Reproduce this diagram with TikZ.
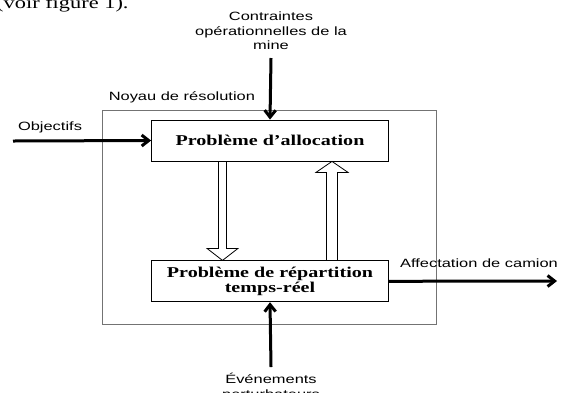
\documentclass[tikz,border=0pt]{standalone}
\usepackage{fontspec}
\setmainfont{Liberation Serif}
\newfontfamily\labelfont{Liberation Sans}[FakeStretch=1.37]
\newfontfamily\boxfont{Liberation Serif}[FakeStretch=1.34]
\usetikzlibrary{arrows.meta, positioning, calc}
\tikzset{
  noyaubox/.style={
    rectangle, draw=black!55, line width=0.9pt,
    minimum width=334pt, minimum height=214pt
  },
  probbox/.style={
    rectangle, draw=black, line width=0.8pt,
    minimum width=237pt, minimum height=41pt,
    align=center, inner sep=0pt,
    font=\boxfont\bfseries\fontsize{15}{14.5}\selectfont
  },
  lbl/.style={
    inner sep=0pt, align=center,
    font=\labelfont\fontsize{12}{14.5}\selectfont
  },
  flow/.style={line width=3pt, -{Straight Barb[length=7pt,width=11pt]}},
  hollow/.style={line width=0.8pt, line join=miter},
}
\begin{document}
\begin{tikzpicture}[x=1pt, y=1pt]
  \useasboundingbox (0,0) rectangle (564,-392);
  \clip (0,0) rectangle (564,-392);
  \node (voir)    [inner sep=0pt, anchor=base west, font=\boxfont\fontsize{16.7}{18}\selectfont] at (-4,-8) {(voir figure 1).};
  \node (noyau)   [noyaubox] at (269,-217) {};
  \node (alloc)   [probbox] at (270,-140.5) {Problème d’allocation};
  \node (repart)  [probbox, below=99pt of alloc] {Problème de répartition\\temps-réel};
  \node (ntitle)  [lbl, anchor=base west] at ([shift={(7,9)}]noyau.north west) {Noyau de résolution};
  \node (contr)   [lbl, anchor=south] at (271,-50) {Contraintes\\opérationnelles de la\\mine};
  \node (obj)     [lbl, anchor=base] at (50,-130) {Objectifs};
  \coordinate (objin) at (13,-141);
  \node (evt)     [lbl, anchor=north] at (271,-373) {Événements\\perturbateurs};
  \node (affect)  [lbl, anchor=base] at (479,-267) {Affectation de camion};
  \coordinate (affout) at (557,-281);

  \draw [flow] ([yshift=-8]contr.south) -- (alloc.north);
  \draw [flow] (objin) -- (alloc.west);
  \draw [flow] (repart.east) -- (affout);
  \draw [flow] ([yshift=6]evt.north) -- (repart.south);
  \draw [hollow] ([xshift=-51.5]alloc.south) -- ++(0,-87) -- ++(-11.5,0) -- ++(15.5,-12)
    -- ++(15.5,12) -- ++(-11.5,0) -- ++(0,87);
  \draw [hollow] ([xshift=56.5]repart.north) -- ++(0,88) -- ++(-10.5,0) -- ++(16,11)
    -- ++(16,-11) -- ++(-10.5,0) -- ++(0,-88);
\end{tikzpicture}
\end{document}
